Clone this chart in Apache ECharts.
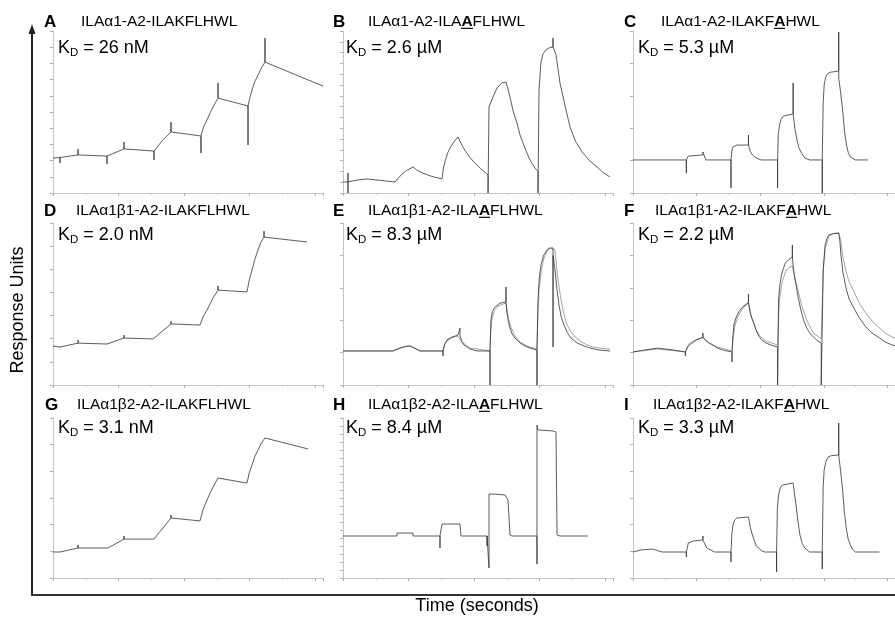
<!DOCTYPE html>
<html>
<head>
<meta charset="utf-8">
<script src="https://cdn.jsdelivr.net/npm/echarts@6/dist/echarts.min.js"></script>
<style>html,body{margin:0;padding:0;background:#fff;}#chart{width:895px;height:617px;}</style>
</head>
<body>
<div id="chart"></div>
<script>
// ---------- Data (time in s, response in RU) ----------
const panelLetters = ['A','B','C','D','E','F','G','H','I'];
const complexNames = ['ILAα1','ILAα1','ILAα1','ILAα1β1','ILAα1β1','ILAα1β1','ILAα1β2','ILAα1β2','ILAα1β2'];
const peptidePre  = ['ILAKFLHWL','ILA','ILAKF','ILAKFLHWL','ILA','ILAKF','ILAKFLHWL','ILA','ILAKF'];
const peptideMut  = ['','A','A','','A','A','','A','A'];
const peptidePost = ['','FLHWL','HWL','','FLHWL','HWL','','FLHWL','HWL'];
const kdValues = ['26 nM','2.6 µM','5.3 µM','2.0 nM','8.3 µM','2.2 µM','3.1 nM','8.4 µM','3.3 µM'];
const yMaxValues = [100,150,100,70,100,100,60,100,120];
const yIntervals = [10,10,20,10,20,20,10,5,20];
const timeMax = 412;

const sensorgramA = [[0,21.6],[10.7,21.9],[10.7,18.5],[10.7,21.9],[38.2,23.5],[38.2,27.2],[38.2,23.5],[82.4,22.8],[82.4,17.9],[82.4,22.8],
 [108.3,27.2],[108.3,31.5],[108.3,27.2],[154.1,25.9],[154.1,20.4],[154.1,25.9],[166.3,32.1],[180.1,37.7],[180.1,43.8],[180.1,37.7],
 [225.8,35.2],[225.8,24.7],[225.8,35.2],[230,41],[235,45.1],[240,49.6],[244.2,53.1],[251.8,58.6],[251.8,67.9],[251.8,58.6],[297.6,53.7],[297.6,29.6],[297.6,53.7],
 [300.5,59],[303.7,63.6],[308,68.8],[312.8,72.8],[318,77.2],[323.5,80.8],[323.5,95.6],[323.5,80.8],[412,66.0]];
const sensorgramB = [[0,10.2],[7.6,10.2],[7.6,18.5],[7.6,0],[7.6,10.2],[20,11.8],[36.6,13.0],[58,11.6],[79.4,10.2],[84,13.5],[90,17.5],[97,20.8],[106.8,24.1],
 [112,21.5],[120,18.9],[130,16.5],[140,14.6],[151.1,13.0],[153,22],[156,30],[160,37.5],[165,43.5],[170,48],[175.5,51.9],[180,46],[186,39.5],[193,33.5],
 [200,28.5],[210,22.5],[221.3,16.7],[221.3,0],[222.8,79.6],[228.9,88.9],[235,97.2],[242.6,101.9],[248.7,102.8],[251.5,96.5],[254.8,88.9],[260,75],
 [265.5,64.8],[270,54],[274.7,46.3],[280,38],[285.3,30.6],[293.0,23.1],[297.6,20],[297.6,0],[299.1,95.4],[302.1,121.3],[305,128.5],[310,132.8],
 [315,134.5],[320.5,135.2],[320.5,143.5],[320.5,135.2],[325,128],[331.1,101.9],[338,83],[346.4,61.1],[355,47.5],[366.2,37.0],[376,30],[387.6,24.1],[397,19],[407.4,14.8]];
const sensorgramC = [[0,20.4],[83.9,20.4],[83.9,12.3],[83.9,20.4],[87,22.8],[109.9,23.5],[109.9,25.3],[114.5,20.4],[154.1,20.4],[154.1,3.1],[154.1,20.4],
 [155.5,26],[157.2,28.4],[163.3,29.6],[181.6,29.6],[181.6,35.8],[181.6,29.6],[184.5,25.5],[187.7,23.5],[193.8,21.6],[201.4,20.4],[227.4,20.4],[227.4,3.1],[227.4,20.4],
 [228.5,36],[230.4,42.0],[233,45.5],[236.5,47.5],[251.8,48.8],[251.8,67.9],[251.8,48.8],[254.5,40],[257.9,32.7],[261,28],[264.0,25.3],[270.1,21.6],[277.7,20.4],
 [297.6,20.4],[297.6,0],[297.6,20.4],[299,55],[300.6,66.7],[303,71.5],[305.2,73.4],[310,74.5],[323.5,75.3],[323.5,99.4],[323.5,71.0],[326.5,62],[329.6,51.2],
 [332.5,38.5],[335.7,29.6],[338.5,25],[341.8,22.2],[349.5,20.4],[369.3,20.4]];
const sensorgramD = [[0,16.8],[10.7,16.4],[38.2,18.1],[38.2,19.4],[38.2,18.1],[82.4,17.7],[108.3,20.3],[108.3,21.6],[108.3,20.3],[152.6,19.9],
 [180.1,26.4],[180.1,27.6],[180.1,26.4],[224.3,25.9],[229,29.4],[235.0,32.4],[240,35.2],[244.2,37.6],[251.8,41.0],[251.8,42.8],[251.8,41.0],[296.0,40.2],
 [299.5,45.4],[303.7,49.7],[308,54.3],[312.8,58.3],[317,61.5],[322.0,63.9],[322.0,66.5],[322.0,63.9],[387.6,61.8]];
const sensorgramE = [[0,21.0],[76.3,21.0],[87,22.8],[95,23.8],[102.2,24.1],[110,22.6],[117.5,21.0],[152.6,21.0],[152.6,17.9],[152.6,21.0],[155,25],[158.7,27.8],
 [166.3,29.6],[175.5,30.8],[178.5,35.2],[178.5,30.8],[181,27],[184.6,24.7],[193.8,22.2],[204.5,21.0],[224.3,21.0],[224.3,0],[224.3,21.0],[225.8,40.1],
 [228,45.5],[231.9,48.1],[239.6,50.6],[248.7,51.2],[248.7,60.5],[248.7,51.2],[250,45],[252,40],[254.8,35.2],[258,31.5],[262.5,29.0],[270,26],[277.7,24.1],
 [287,22.5],[296.0,21.6],[296.0,0],[296.0,21.6],[297.6,52.5],[299.5,66],[302.1,74.1],[306,80],[311.3,83.3],[315,84.5],[320.5,84.6],[320.5,23.5],[320.5,80],
 [323.5,71.0],[326.5,59],[329.6,49.4],[333,42],[337.2,37.0],[342,32.5],[347.9,29.0],[357,26],[367.7,24.1],[380,22.5],[390.6,21.6],[407.4,21.0]];
const fitE = [[0,21.0],[76.3,21.0],[90,23.2],[102.2,24.1],[117.5,21.0],[152.6,21.0],[155,24.8],[158.7,27.1],[166,29.2],[175.5,30.2],[178,28.5],[181.6,26.5],
 [193.8,22.8],[224.3,21.0],[225.5,33],[227.4,41.3],[231,45.8],[236.5,48.8],[248.7,50.6],[251.5,43.5],[254.8,37.0],[262,30.5],[270.1,26.5],[282,23.8],
 [296.0,22.2],[297.5,45],[299.1,58.6],[302.5,70],[306.7,78.4],[311,82.4],[315.8,84.6],[323.5,83.3],[327,68.5],[331.1,56.8],[335.5,46.5],[340.7,38.3],
 [347,33.2],[356.0,29.0],[367,25.8],[380.5,23.5],[395,22.6],[407.4,22.2]];
const sensorgramF = [[0,20.4],[18.3,21.6],[38.2,22.8],[64.1,21.6],[82.4,20.4],[82.4,17.9],[82.4,20.4],[86,23.5],[90.6,25.3],[99.7,27.8],[109.9,29.6],[109.9,32.1],
 [109.9,29.6],[115,27.3],[120.6,25.9],[132.8,22.8],[144,21.3],[155.7,20.4],[155.7,14.2],[155.7,20.4],[157,30],[158.7,37.0],[162,41.5],[166.3,45.1],[173,48.5],
 [181.6,50.6],[181.6,56.1],[181.6,50.6],[184,45],[186.5,41.5],[189.2,38.9],[193,34.5],[196.9,30.8],[202,28],[209.1,25.9],[218,24.5],[227.4,23.5],[227.4,0],
 [228.9,52.5],[231,62],[233.5,67.9],[236.5,72],[239.6,75.3],[245,77.5],[250.6,79.0],[250.6,86.4],[250.6,79.0],[252.5,71],[254.5,66],[256.4,61.7],[260,53.5],
 [264.0,46.3],[268,40.5],[273.1,35.2],[279,31.5],[285.3,29.0],[290,27.3],[296.0,25.9],[296.0,0],[299.1,71.0],[302.1,86.4],[305,90.5],[308.2,92.6],[315,93.5],
 [323.5,93.8],[325.5,88],[326.6,81.4],[330,70],[335.7,58.6],[340,53],[346.4,48.1],[355,42],[366.2,35.8],[376,32],[387.6,29.0],[397,26.5],[407.4,24.7],[412,24.3]];
const fitF = [[0,20.4],[38.2,22.2],[82.4,20.4],[88,25.5],[99.7,28],[109.9,29.0],[120,25.6],[132.8,23.5],[155.7,21.0],[157.5,28],[160,36],[165,42.5],[170.9,46.3],
 [181.6,51.2],[186,42.5],[193.8,34.0],[200,30],[209.1,27.1],[227.4,24.7],[229,42],[230.4,52.5],[234,62.5],[239.6,69.8],[245,72.5],[250.6,73.4],[254,67],
 [259.4,58.6],[265,49.5],[273.1,40.1],[283,32.5],[296.0,28.4],[299.1,71.0],[302,84],[308.2,91.9],[315,93.4],[323.5,93.8],[326.6,89.5],[330,79],[335.7,69.1],
 [340,63.5],[346.4,58.6],[355,51],[366.2,44.4],[376,39.5],[387.6,35.2],[397,32],[407.4,29.6],[412,28.9]];
const sensorgramG = [[0,9.75],[10.7,9.75],[38.2,11.25],[38.2,12.4],[38.2,11.25],[83.9,11.25],[108.3,14.6],[108.3,15.75],[108.3,14.6],[154.1,14.6],
 [180.1,22.5],[180.1,23.6],[180.1,22.5],[224.3,21.4],[229,25.6],[235.0,29.25],[240,32],[244.2,34.1],[251.8,37.5],[296.0,35.6],[299.5,39.5],[303.7,42.4],
 [308,45.6],[312.8,48.0],[318,50.6],[323.5,52.5],[389.1,48.4]];
const sensorgramH = [[0,26.25],[82.4,26.25],[82.4,28.1],[106.8,28.1],[106.8,26.25],[148.0,26.25],[148.0,18.75],[148.0,26.25],[151.1,33.75],[178.5,33.75],
 [180.1,26.25],[219.8,26.25],[219.8,20.0],[219.8,26.25],[222.8,26.25],[222.8,6.25],[222.8,52.5],[228.9,52.5],[247.2,51.9],[251.8,48.75],[254.8,26.9],
 [257.9,26.25],[296.0,26.25],[296.0,8.75],[296.0,95.6],[297.6,92.5],[320.5,91.9],[325.0,91.25],[326.6,26.9],[331.1,26.25],[373.9,26.25]];
const sensorgramI = [[0,19.5],[12.2,21.0],[30.5,21.75],[45.8,19.5],[83.9,19.5],[83.9,15.75],[83.9,19.5],[87,26.25],[94.6,27.75],[109.9,28.5],[109.9,31.5],[109.9,28.5],
 [116.0,22.5],[128.2,19.5],[154.1,19.5],[154.1,12.0],[154.1,19.5],[155.5,33],[157.2,39.75],[160,43.5],[163.3,45.0],[181.6,45.75],[184.5,38],[187.7,32.25],
 [193.8,24.0],[202.9,20.25],[207,19.5],[225.8,19.5],[225.8,4.5],[225.8,19.5],[227,52],[228.9,62.25],[231.5,67.5],[235.0,69.75],[251.8,71.25],[254,63],
 [256.4,54.75],[259.5,42],[262.5,32.25],[266,26],[270.1,22.5],[277.7,19.5],[297.6,19.5],[297.6,6.75],[297.6,19.5],[299,68],[300.6,81.0],[303.5,87.5],
 [306.7,90.75],[312,91.8],[323.5,92.25],[323.5,116.25],[323.5,92.25],[326.5,80],[329.6,66.0],[332.5,49],[335.7,36.0],[338.5,29],[341.8,24.75],[345.5,21.3],
 [349.5,19.5],[387.6,19.5]];

const sensorgrams = [sensorgramA,sensorgramB,sensorgramC,sensorgramD,sensorgramE,sensorgramF,sensorgramG,sensorgramH,sensorgramI];
const fits = {4: fitE, 5: fitF};

// ---------- Layout ----------
const FONT = 'Liberation Sans, Arial, Helvetica, sans-serif';
const colLeft = [53, 343, 633];
const rowTop = [31, 223, 418];
const rowHeight = [162, 162, 160];
const plotWidth = 270;
const letterX = [[44,333,624],[44,333,624],[45,333,624]];
const titleX = [[81,368,661],[76,368,655],[77,368,653]];
const titleY = [22, 211, 405];
const kdY = [48, 235, 428];
const kdX = [58, 346, 638];

function underlineImage() {
  const c = document.createElement('canvas');
  c.width = 20; c.height = 40;
  const g = c.getContext('2d');
  g.fillStyle = '#111';
  g.fillRect(0, 34, 20, 3.5);
  return c;
}
const ulImg = underlineImage();

const grids = [], xAxes = [], yAxes = [], series = [], graphics = [];
const axisLineStyle = {color: '#c4c4c4', width: 1};
for (let i = 0; i < 9; i++) {
  const r = Math.floor(i / 3), c = i % 3;
  grids.push({left: colLeft[c], top: rowTop[r], width: plotWidth, height: rowHeight[r], containLabel: false});
  xAxes.push({
    type: 'value', gridIndex: i, min: 0, max: timeMax, interval: 100,
    axisLine: {show: true, lineStyle: axisLineStyle},
    axisTick: {show: true, length: 3, lineStyle: {color: '#b0b0b0'}},
    minorTick: {show: true, splitNumber: 2, length: 2, lineStyle: {color: '#c8c8c8'}},
    axisLabel: {show: false}, splitLine: {show: false}
  });
  yAxes.push({
    type: 'value', gridIndex: i, min: 0, max: yMaxValues[i], interval: yIntervals[i],
    axisLine: {show: true, lineStyle: axisLineStyle},
    axisTick: {show: true, length: 3, lineStyle: {color: '#b0b0b0'}},
    axisLabel: {show: false}, splitLine: {show: false}
  });
  if (fits[i]) {
    series.push({type: 'line', xAxisIndex: i, yAxisIndex: i, data: fits[i], showSymbol: false, silent: true,
      lineStyle: {color: '#9a9a9a', width: 0.9}, animation: false, z: 1});
  }
  series.push({type: 'line', xAxisIndex: i, yAxisIndex: i, data: sensorgrams[i], showSymbol: false, silent: true,
    lineStyle: {color: '#333', width: 0.8}, animation: false, z: 2});

  graphics.push({type: 'text', style: {text: panelLetters[i], x: letterX[r][c], y: titleY[r], fill: '#000',
    font: 'bold 17px ' + FONT, verticalAlign: 'middle'}});
  let t = '{n|' + complexNames[i] + '-A2-' + peptidePre[i] + '}';
  if (peptideMut[i]) t += '{u|' + peptideMut[i] + '}{n|' + peptidePost[i] + '}';
  graphics.push({type: 'text', style: {text: t, x: titleX[r][c], y: titleY[r], verticalAlign: 'middle',
    rich: {
      n: {fontFamily: FONT, fontSize: 15.5, color: '#111', lineHeight: 20},
      u: {fontFamily: FONT, fontSize: 15.5, fontWeight: 'bold', color: '#111', lineHeight: 20, backgroundColor: {image: ulImg}}
    }}});
  graphics.push({type: 'text', style: {text: '{k|K}{s|D}{k| = ' + kdValues[i] + '}', x: kdX[c], y: kdY[r], verticalAlign: 'middle',
    rich: {
      k: {fontFamily: FONT, fontSize: 18, color: '#000', lineHeight: 22},
      s: {fontFamily: FONT, fontSize: 11.5, color: '#000', lineHeight: 12, verticalAlign: 'bottom'}
    }}});
}

graphics.push({type: 'line', shape: {x1: 32, y1: 595, x2: 32, y2: 31}, style: {stroke: '#222', lineWidth: 2}});
graphics.push({type: 'polygon', shape: {points: [[32, 24], [28.5, 34], [35.5, 34]]}, style: {fill: '#222'}});
graphics.push({type: 'line', shape: {x1: 31, y1: 595, x2: 895, y2: 595}, style: {stroke: '#333', lineWidth: 2}});
graphics.push({type: 'text', x: 18, y: 310, rotation: Math.PI / 2,
  style: {text: 'Response Units', x: 0, y: 0, align: 'center', verticalAlign: 'middle', font: '18px ' + FONT, fill: '#000'}});
graphics.push({type: 'text', style: {text: 'Time (seconds)', x: 477, y: 606, align: 'center', verticalAlign: 'middle', font: '18px ' + FONT, fill: '#000'}});

const chart = echarts.init(document.getElementById('chart'), null, {renderer: 'canvas'});
chart.setOption({
  animation: false,
  backgroundColor: '#fff',
  grid: grids, xAxis: xAxes, yAxis: yAxes, series: series,
  graphic: graphics
});
</script>
</body>
</html>
